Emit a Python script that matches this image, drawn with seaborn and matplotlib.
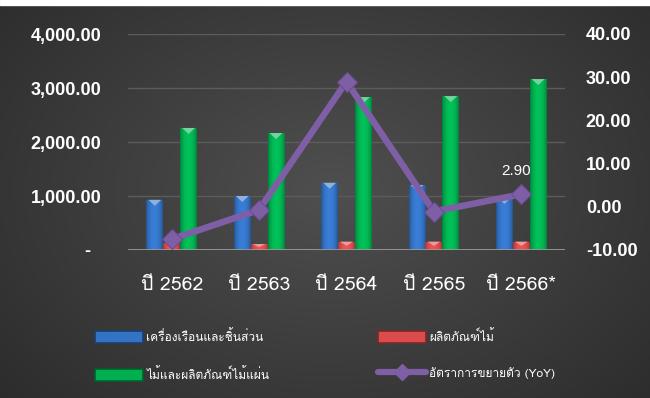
import numpy as np
import pandas as pd
import matplotlib
matplotlib.use("Agg")
import matplotlib.pyplot as plt
from matplotlib import font_manager as fm
from matplotlib.patches import Patch, Rectangle, Polygon
from matplotlib.lines import Line2D
import seaborn as sns

# ---- data ----
years = ["ปี 2562", "ปี 2563", "ปี 2564", "ปี 2565", "ปี 2566*"]
furniture = [930, 1000, 1245, 1205, 965]
wood_products = [130, 110, 155, 155, 155]
wood_panels = [2260, 2165, 2830, 2850, 3165]
yoy = [-7.5, -0.7, 29.0, -1.1, 2.90]
series_names = ["เครื่องเรือนและชิ้นส่วน", "ผลิตภัณฑ์ไม้", "ไม้และผลิตภัณฑ์ไม้แผ่น"]
yoy_name = "อัตราการขยายตัว (YoY)"
left_ticks = [0, 1000, 2000, 3000, 4000]
right_ticks = [-10, 0, 10, 20, 30, 40]

colors = ["#3472C4", "#DC4B4B", "#00B050"]
line_color = "#7E5FA6"

# ---- find a Thai-capable font ----
thai_font = "Loma"
try:
    from fontTools.ttLib import TTFont
    names = set(f.name for f in fm.fontManager.ttflist)
    if "Loma" not in names:
        for f in sorted(set(fm.findSystemFonts())):
            try:
                tt = TTFont(f, fontNumber=0, lazy=True)
                cmap = tt.getBestCmap()
                if cmap and 0x0E1B in cmap:
                    thai_font = fm.FontProperties(fname=f).get_name()
                    break
            except Exception:
                pass
except Exception:
    pass

sns.set_theme(style="dark")
plt.rcParams['font.family'] = [thai_font, 'DejaVu Sans']

W, H = 650, 398
fig = plt.figure(figsize=(W / 100, H / 100), dpi=100)

# background radial gradient
bg = fig.add_axes([0, 0, 1, 1], zorder=-10)
yy, xx = np.mgrid[0:H, 0:W]
r = np.sqrt(((xx - 330) / 420) ** 2 + ((yy - 190) / 300) ** 2)
v = np.clip(0.31 - 0.13 * r, 0.15, 0.31)
bg.imshow(np.dstack([v, v, v]), aspect='auto', extent=[0, W, H, 0])
bg.add_patch(Rectangle((0, 0), W, 5, color="white"))
bg.set_xlim(0, W); bg.set_ylim(H, 0)
bg.axis('off')

ax = fig.add_axes([128 / W, (H - 250) / H, 437 / W, 216 / H])
ax.set_facecolor("none")

df = pd.DataFrame({
    "year": np.repeat(years, 3),
    "series": series_names * len(years),
    "value": np.ravel(np.column_stack([furniture, wood_products, wood_panels])),
})
sns.barplot(data=df, x="year", y="value", hue="series", hue_order=series_names,
            palette=colors, width=0.58, gap=0, ax=ax, legend=False, zorder=3,
            edgecolor="none", saturation=1)

ax.set_xlim(-0.5, 4.5)
ax.set_ylim(0, 4000)

# gradient shading + bevel on bars
px_per_unit = 216 / 4000
for p in list(ax.patches):
    x0, y0 = p.get_x(), p.get_y()
    w, h = p.get_width(), p.get_height()
    if h <= 0:
        continue
    c = np.array(matplotlib.colors.to_rgb(p.get_facecolor()))
    t = np.linspace(0, 1, 32)
    shade = 0.72 + 0.38 * np.sin(np.pi * t) ** 0.6
    grad = np.clip(c[None, :] * shade[:, None], 0, 1)[None, :, :]
    im = ax.imshow(grad, extent=[x0, x0 + w, y0, y0 + h], aspect='auto', zorder=3.5,
                   interpolation='bilinear')
    im.set_clip_path(p)
    bev = min(6 / px_per_unit, h * 0.5)
    light = np.clip(c * 0.55 + 0.45, 0, 1)
    ax.add_patch(Polygon([[x0 + w * 0.12, y0 + h], [x0 + w * 0.88, y0 + h],
                          [x0 + w / 2, y0 + h - bev]], closed=True,
                         facecolor=light, edgecolor="none", zorder=3.6))

ax.set_yticks(left_ticks)
ax.set_yticklabels(["-  "] + [f"{t:,.2f}" for t in left_ticks[1:]])
for t in left_ticks[1:]:
    ax.axhline(t, color="#5c5c5c", lw=1, zorder=1)
ax.axhline(0, color="#9a9a9a", lw=2, zorder=5)
ax.tick_params(axis='y', length=0, pad=19, labelsize=13, labelcolor="white")
for lab in ax.get_yticklabels():
    lab.set_fontweight("bold")
    lab.set_family(["Liberation Sans"])
ax.tick_params(axis='x', length=0, pad=19, labelsize=14, labelcolor="white")
ax.set_xlabel(""); ax.set_ylabel("")
ax.grid(False)
for s in ax.spines.values():
    s.set_visible(False)

ax2 = ax.twinx()
sns.lineplot(x=np.arange(len(years)), y=yoy, ax=ax2, color=line_color, lw=4.7,
             marker="D", markersize=10, markeredgecolor="#6A4C92", zorder=6,
             clip_on=False)
ax2.set_ylim(-10, 40)
ax2.set_yticks(right_ticks)
ax2.set_yticklabels([f"{t:.2f}" for t in right_ticks])
ax2.tick_params(axis='y', length=0, pad=15, labelsize=13, labelcolor="white")
for lab in ax2.get_yticklabels():
    lab.set_fontweight("bold")
    lab.set_family(["Liberation Sans"])
ax2.grid(False)
for s in ax2.spines.values():
    s.set_visible(False)
ax2.set_ylabel("")
ax2.annotate(f"{yoy[-1]:.2f}", (4, yoy[-1]), xytext=(-4, 17), textcoords="offset points",
             ha="center", va="center", color="white", fontsize=11, family=["Liberation Sans"])

# legend
def bar_handle(c):
    edge = matplotlib.colors.to_hex(np.array(matplotlib.colors.to_rgb(c)) * 0.55)
    return Patch(facecolor=c, edgecolor=edge, lw=1.2)

h1 = [bar_handle(colors[0]), bar_handle(colors[2])]
l1 = [series_names[0], series_names[2]]
h2 = [bar_handle(colors[1]), Line2D([], [], color=line_color, lw=4.5, marker="D", markersize=8)]
l2 = [series_names[1], yoy_name]
common = dict(frameon=False, ncol=1, fontsize=8.6, labelcolor="white", handlelength=4.0,
              handleheight=1.2, handletextpad=0.3, labelspacing=2.0, borderpad=0,
              borderaxespad=0)
fig.legend(h1, l1, loc="upper left", bbox_to_anchor=(95 / W, 1 - 329 / H), **common)
fig.legend(h2, l2, loc="upper left", bbox_to_anchor=(378 / W, 1 - 329 / H), **common)

fig.savefig("out.png", dpi=100)
